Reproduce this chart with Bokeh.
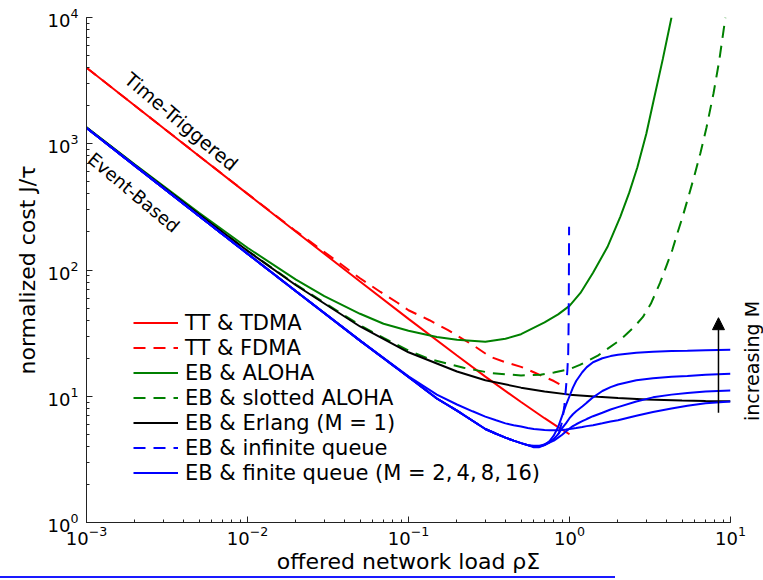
from bokeh.plotting import figure
from bokeh.models import Legend, LegendItem, Label, Arrow, NormalHead
from bokeh.embed import file_html
from bokeh.resources import INLINE

# ---------------- data ----------------
x_tdma = [0.001, 0.002, 0.005, 0.01, 0.02, 0.05, 0.1, 0.2, 0.3, 0.5, 0.7, 0.85, 1.0]
y_tdma = [4000, 2000, 801, 401, 201, 81, 41, 21, 14.3, 9.0, 6.7, 5.7, 5.0]

x_fdma = [0.001, 0.002, 0.005, 0.01, 0.02, 0.03, 0.05, 0.067, 0.0855, 0.1, 0.135, 0.175, 0.25, 0.323, 0.4, 0.5, 0.6, 0.7, 0.8, 0.88]
y_fdma = [4000, 2000, 801, 402, 203, 139, 86, 67, 55, 48, 40, 33.6, 25.5, 20.5, 18.6, 17.1, 15.5, 14.2, 13.2, 12.3]

x_aloha = [0.001, 0.002, 0.005, 0.01, 0.02, 0.03, 0.05, 0.07, 0.1, 0.15, 0.2, 0.3, 0.4, 0.5, 0.7,
           0.85, 1.0, 1.17, 1.4, 1.72, 2.07, 2.35, 2.64, 3.0, 3.33, 3.8, 4.3]
y_aloha = [1350, 684, 284, 150, 84, 62, 45, 37.5, 33, 29.5, 28, 27, 28.5, 31, 38.5,
           44.5, 52, 65.8, 95, 152, 265, 410, 652, 1200, 2200, 4700, 10000]

x_saloha = [0.001, 0.002, 0.005, 0.01, 0.02, 0.05, 0.07, 0.1, 0.137, 0.22, 0.323, 0.5, 0.66, 0.8,
            1.0, 1.16, 1.5, 2.07, 2.5, 2.86, 3.2, 3.65, 4.0, 4.35, 4.68, 5.0, 5.4, 5.9, 6.5,
            7.1, 7.84, 8.5, 9.3]
y_saloha = [1342, 676, 276, 142, 76.5, 36.5, 29, 23, 19.6, 16.8, 15.3, 14.6, 14.8, 15.4,
            16.4, 17.7, 21, 28, 35, 42.5, 54, 79, 108, 144, 196, 255, 357, 530, 841,
            1350, 2500, 4500, 10000]

x_erlang = [0.001, 0.002, 0.005, 0.01, 0.02, 0.05, 0.1, 0.2, 0.3, 0.5, 0.7, 1.0, 1.5, 2.0, 3.0, 5.0, 7.0, 10.0]
y_erlang = [1342, 676, 276, 142, 75.7, 35.7, 22.3, 15.7, 13.4, 11.7, 10.9, 10.3, 9.9, 9.67, 9.44, 9.27, 9.19, 9.13]

x_inf = [0.001, 0.002, 0.005, 0.01, 0.02, 0.05, 0.1, 0.15, 0.2, 0.25, 0.3, 0.35, 0.4, 0.45, 0.5,
         0.55, 0.6, 0.65, 0.7, 0.75, 0.8, 0.86, 0.9, 0.93, 0.95, 0.97, 0.982, 0.988, 0.991,
         0.993, 0.994]
y_inf = [1334, 668, 268, 134.5, 67.8, 27.6, 14.2, 9.6, 7.7, 6.4, 5.5, 5.05, 4.7, 4.45, 4.25,
         4.1, 4.0, 4.0, 4.15, 4.35, 4.6, 5.1, 6.3, 8.5, 11.5, 16, 22, 40, 80,
         150, 220]

x_fin = [0.001, 0.002, 0.005, 0.01, 0.02, 0.05, 0.1, 0.15, 0.2, 0.25, 0.3, 0.35, 0.4, 0.45, 0.5,
         0.55, 0.6, 0.65, 0.7, 0.75, 0.8, 0.85, 0.9, 0.95, 1.0, 1.05, 1.1, 1.2, 1.28, 1.4,
         1.6, 1.8, 2.0, 2.6, 3.3, 4.3, 5.4, 7.0, 10.0]
y_fin_m2 = [1334, 668, 268, 134.5, 67.8, 27.6, 14.4, 10.3, 8.6, 7.6, 6.9, 6.45, 6.1, 5.9, 5.75,
            5.6, 5.5, 5.45, 5.4, 5.38, 5.38, 5.38, 5.4, 5.45, 5.5, 5.55, 5.6, 5.7, 5.8, 5.9,
            6.1, 6.3, 6.45, 7.0, 7.5, 8.0, 8.4, 8.8, 9.1]
y_fin_m4 = [1334, 668, 268, 134.5, 67.8, 27.6, 14.2, 9.6, 7.7, 6.4, 5.5, 5.05, 4.7, 4.45, 4.25,
            4.1, 4.05, 4.05, 4.15, 4.3, 4.45, 4.7, 4.95, 5.25, 5.55, 5.8, 6.0, 6.35, 6.6, 6.95,
            7.4, 7.85, 8.2, 9.1, 9.8, 10.3, 10.6, 10.9, 11.1]
y_fin_m8 = [1334, 668, 268, 134.5, 67.8, 27.6, 14.2, 9.6, 7.7, 6.4, 5.5, 5.05, 4.7, 4.45, 4.25,
            4.1, 4.0, 4.0, 4.1, 4.3, 4.6, 5.0, 5.6, 6.1, 6.7, 7.2, 7.6, 8.3, 8.9, 9.8,
            11.0, 11.8, 12.4, 13.4, 13.9, 14.3, 14.5, 14.8, 15.1]
y_fin_m16 = [1334, 668, 268, 134.5, 67.8, 27.6, 14.2, 9.6, 7.7, 6.4, 5.5, 5.05, 4.7, 4.45, 4.25,
             4.1, 3.95, 3.95, 4.1, 4.4, 4.9, 5.7, 7.0, 8.5, 10.0, 11.7, 13.2, 15.5, 17.0, 18.6,
             20.0, 20.8, 21.3, 22.1, 22.5, 22.8, 22.9, 23.1, 23.3]

legend_labels = ["TT & TDMA", "TT & FDMA", "EB & ALOHA", "EB & slotted ALOHA",
                 "EB & Erlang (M = 1)", "EB & infinite queue",
                 "EB & finite queue (M = 2,\u20094,\u20098,\u200916)"]
side_text = "increasing M"

# annotation positions (data coordinates)
tt_label_pos = (1.798e-3, 3417)
eb_label_pos = (1.170e-3, 921)
arrow_x = 8.42
arrow_y = (7.4, 41.9)

RED, GREEN, BLUE, BLACK = "#ff0000", "#008000", "#0000ff", "#000000"
FONT = "DejaVu Sans"
DASH = "12 8"

p = figure(width=763, height=576, x_axis_type="log", y_axis_type="log",
           x_range=(1e-3, 10), y_range=(1, 1e4),
           output_backend="svg", toolbar_location=None,
           min_border_left=86, min_border_right=33, min_border_top=17, min_border_bottom=53)
p.xgrid.visible = False
p.ygrid.visible = False
p.outline_line_color = None
p.background_fill_color = "white"

for ax in (p.xaxis[0], p.yaxis[0]):
    ax.major_tick_in = 6
    ax.major_tick_out = 0
    ax.minor_tick_in = 3
    ax.minor_tick_out = 0
    ax.axis_line_color = "#222222"
    ax.major_tick_line_color = "#222222"
    ax.minor_tick_line_color = "#222222"
    ax.major_label_text_font = FONT
    ax.major_label_text_font_size = "18px"
    ax.major_label_text_color = "black"
    ax.axis_label_text_font = FONT
    ax.axis_label_text_font_size = "22px"
    ax.axis_label_text_font_style = "normal"
    ax.axis_label_text_color = "black"

p.xaxis.axis_label = "offered network load ρΣ"
p.yaxis.axis_label = "normalized cost J/τ"
p.xaxis.major_label_standoff = 3
p.xaxis.axis_label_standoff = 1
p.yaxis.major_label_standoff = 8
p.yaxis.axis_label_standoff = 5

r_tdma = p.line(x_tdma, y_tdma, line_color=RED, line_width=2)
r_fdma = p.line(x_fdma, y_fdma, line_color=RED, line_width=2, line_dash=DASH)
r_aloha = p.line(x_aloha, y_aloha, line_color=GREEN, line_width=2)
r_saloha = p.line(x_saloha, y_saloha, line_color=GREEN, line_width=2, line_dash=DASH)
r_erl = p.line(x_erlang, y_erlang, line_color=BLACK, line_width=2)
r_inf = p.line(x_inf, y_inf, line_color=BLUE, line_width=2, line_dash=DASH)
r_fin = []
for ys in (y_fin_m2, y_fin_m4, y_fin_m8, y_fin_m16):
    r_fin.append(p.line(x_fin, ys, line_color=BLUE, line_width=2))

rends = [[r_tdma], [r_fdma], [r_aloha], [r_saloha], [r_erl], [r_inf], [r_fin[0]]]
items = [LegendItem(label=lab, renderers=rr) for lab, rr in zip(legend_labels, rends)]
legend = Legend(items=items, location=(47, 37), background_fill_alpha=0, border_line_alpha=0,
                label_text_font=FONT, label_text_font_size="21px", label_text_color="black",
                glyph_width=45, glyph_height=25, label_height=25, spacing=0, padding=0, margin=0,
                label_standoff=7)
p.add_layout(legend)

p.add_layout(Label(x=tt_label_pos[0], y=tt_label_pos[1], text="Time-Triggered", angle=-40,
                   angle_units="deg", text_font=FONT, text_font_size="19px",
                   text_align="left", text_baseline="alphabetic", text_color="black"))
p.add_layout(Label(x=eb_label_pos[0], y=eb_label_pos[1], text="Event-Based", angle=-40,
                   angle_units="deg", text_font=FONT, text_font_size="18px",
                   text_align="left", text_baseline="top", text_color="black"))
p.add_layout(Arrow(end=NormalHead(size=12, fill_color="black", line_color="black"),
                   x_start=arrow_x, y_start=arrow_y[0], x_end=arrow_x, y_end=arrow_y[1],
                   line_width=1.5, line_color="black"))

html = file_html(p, INLINE)
extra = (
    '<div style="position:absolute;left:0px;top:576px;width:615px;height:2px;'
    'background:#1a1aff;"></div>'
    '<div style="position:absolute;left:741px;top:300px;width:22px;height:122px;">'
    '<span style="position:absolute;left:50%;top:50%;white-space:nowrap;'
    'font-family:\'DejaVu Sans\';font-size:19px;color:black;line-height:1;'
    'transform:translate(-50%,-50%) rotate(-90deg);">' + side_text + '</span></div>'
)
html = html.replace("</body>", extra + "</body>")
open("out.html", "w").write(html)
